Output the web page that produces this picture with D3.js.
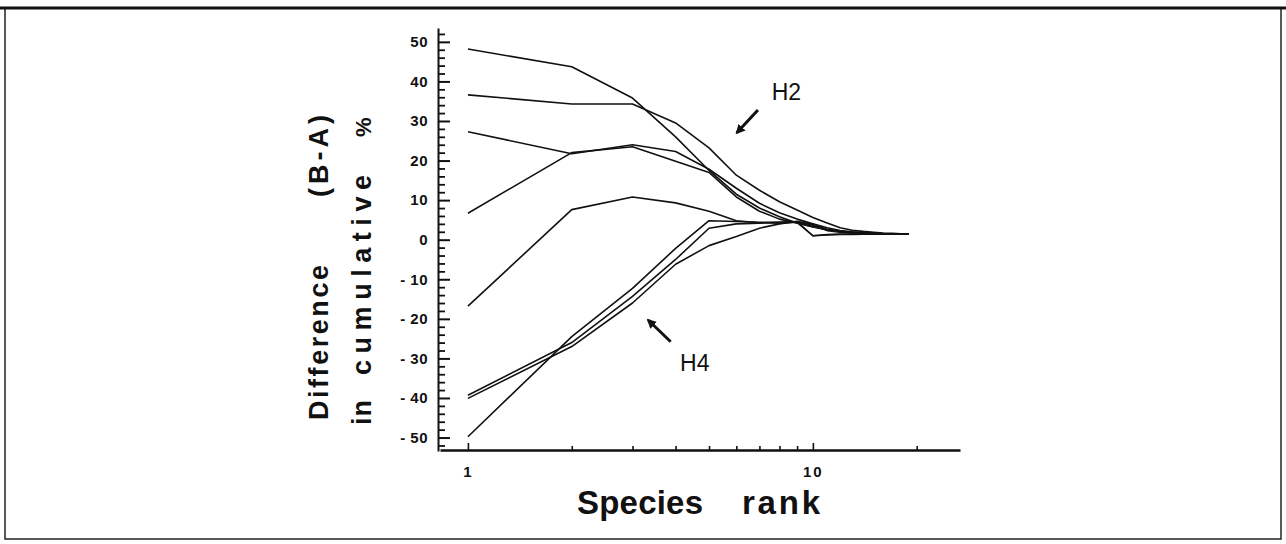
<!DOCTYPE html>
<html>
<head>
<meta charset="utf-8">
<title>Difference (B-A) in cumulative % vs species rank</title>
<script src="https://d3js.org/d3.v7.min.js"></script>
<style>
  body { margin: 0; background: #fff; }
  svg { display: block; font-family: "Liberation Sans", Arial, Helvetica, sans-serif; }
  .curve { fill: none; stroke: #111; stroke-width: 1.6; stroke-linejoin: round; }
  .axis text { fill: #111; font-weight: bold; }
  .title { fill: #111; font-weight: bold; }
</style>
</head>
<body>
<div id="chart"></div>
<script>
// species rank (x, log scale)
const ranks = [1, 2, 3, 4, 5, 6, 7, 8, 9, 10, 11, 12, 13, 14, 15, 16, 17, 18, 19];

// H2 group (start positive)
const curveA = [48.2, 43.7, 35.8, 26.0, 17.5, 11.5, 8.0, 5.8, 4.2, 3.2, 2.5, 2.1, 1.9, 1.7, 1.6, 1.5, 1.5, 1.4, 1.4];
const curveB = [36.6, 34.3, 34.3, 29.5, 23.2, 16.3, 12.5, 9.6, 7.5, 5.6, 4.2, 3.0, 2.4, 2.1, 1.9, 1.7, 1.6, 1.5, 1.4];
const curveC = [27.3, 21.7, 24.0, 22.3, 17.8, 13.0, 9.2, 6.8, 5.2, 4.0, 3.0, 2.3, 2.0, 1.8, 1.6, 1.5, 1.5, 1.4, 1.4];
const curveD = [6.7, 22.0, 23.5, 19.8, 17.0, 10.8, 7.2, 5.2, 4.2, 3.3, 2.5, 2.0, 1.8, 1.6, 1.5, 1.5, 1.4, 1.4, 1.4];
const curveE = [-16.8, 7.6, 10.8, 9.3, 7.2, 4.8, 4.3, 4.2, 4.4, 1.0, 1.2, 1.3, 1.3, 1.4, 1.4, 1.4, 1.4, 1.4, 1.4];

// H4 group (start negative)
const curveF = [-39.3, -26.0, -14.3, -5.0, 2.9, 4.0, 4.2, 4.4, 4.5, 1.0, 1.3, 1.4, 1.4, 1.4, 1.4, 1.4, 1.4, 1.4, 1.4];
const curveG = [-40.1, -27.0, -16.0, -6.2, -1.5, 0.8, 2.9, 4.0, 4.6, 3.9, 2.6, 2.0, 1.7, 1.6, 1.5, 1.5, 1.4, 1.4, 1.4];
const curveH = [-49.8, -24.5, -12.3, -2.2, 4.8, 4.6, 4.4, 4.4, 4.6, 3.6, 2.3, 1.9, 1.7, 1.6, 1.5, 1.5, 1.4, 1.4, 1.4];

const allCurves = [curveA, curveB, curveC, curveD, curveE, curveF, curveG, curveH];

const yTickValues = [-50, -40, -30, -20, -10, 0, 10, 20, 30, 40, 50];
const xTickValues = [1, 2, 3, 4, 5, 6, 7, 8, 9, 10, 20];
const xTickLabels = [1, 10];

const width = 1286, height = 544;

const svg = d3.select("#chart")
  .append("svg")
  .attr("width", width)
  .attr("height", height);

svg.append("rect").attr("width", width).attr("height", height).attr("fill", "#fff");

// page frame
svg.append("rect")
  .attr("x", 5).attr("y", 8)
  .attr("width", 1276).attr("height", 531)
  .attr("fill", "none").attr("stroke", "#222").attr("stroke-width", 1.5);
svg.append("line")
  .attr("x1", 0).attr("x2", width).attr("y1", 8).attr("y2", 8)
  .attr("stroke", "#111").attr("stroke-width", 3);

const x = d3.scaleLog().domain([0.83, 26.7]).range([440, 960]);
const y = d3.scaleLinear().domain([-53.4, 53.5]).range([451, 28]);

// y axis, major ticks point inward
const yAxis = svg.append("g")
  .attr("class", "axis")
  .attr("transform", "translate(438,0)")
  .call(d3.axisLeft(y)
    .tickValues(yTickValues)
    .tickSize(-12)
    .tickSizeOuter(0)
    .tickPadding(10)
    .tickFormat(d => d < 0 ? "- " + Math.abs(d) : d));
yAxis.select(".domain").attr("stroke", "#111").attr("stroke-width", 2);
yAxis.selectAll(".tick line").attr("stroke", "#111").attr("stroke-width", 2);
yAxis.selectAll("text").style("font-size", "15px").style("letter-spacing", "0.5px");

// y minor ticks every 2
const minorY = d3.range(-52, 53, 2).filter(v => v % 10 !== 0);
const yMinor = svg.append("g")
  .attr("transform", "translate(438,0)")
  .call(d3.axisLeft(y).tickValues(minorY).tickSize(-7).tickFormat(""));
yMinor.select(".domain").remove();
yMinor.selectAll(".tick line").attr("stroke", "#111").attr("stroke-width", 1.8);

// x axis
const xAxis = svg.append("g")
  .attr("class", "axis")
  .attr("transform", "translate(0,450)")
  .call(d3.axisBottom(x)
    .tickValues(xTickValues)
    .tickSize(-4)
    .tickSizeOuter(0)
    .tickPadding(16)
    .tickFormat(d => xTickLabels.includes(d) ? d : ""));
xAxis.select(".domain").attr("stroke", "#111").attr("stroke-width", 2.5);
xAxis.selectAll(".tick line")
  .attr("stroke", "#111").attr("stroke-width", 1.6)
  .attr("y2", d => xTickLabels.includes(d) ? -7 : -4);
xAxis.selectAll("text").style("font-size", "15px").style("letter-spacing", "2px");

// curves
const line = d3.line()
  .x((d, i) => x(ranks[i]))
  .y(d => y(d));

svg.append("g")
  .selectAll("path")
  .data(allCurves)
  .join("path")
  .attr("class", "curve")
  .attr("d", line);

// axis titles
function vWord(txt, bx, by, len, size) {
  svg.append("text")
    .attr("class", "title")
    .attr("transform", `translate(${bx},${by}) rotate(-90)`)
    .attr("textLength", len)
    .attr("lengthAdjust", "spacing")
    .style("font-size", size + "px")
    .text(txt);
}
vWord("Difference", 328, 420, 155, 27);
vWord("(B-A)", 328, 197, 82, 27);
vWord("in", 371, 425, 25, 27);
vWord("cumulative", 371, 375, 200, 27);
vWord("%", 371, 137, 17, 22);

svg.append("text").attr("class", "title")
  .attr("x", 577).attr("y", 514)
  .attr("textLength", 126).attr("lengthAdjust", "spacing")
  .style("font-size", "33px").text("Species");
svg.append("text").attr("class", "title")
  .attr("x", 742).attr("y", 514)
  .attr("textLength", 78).attr("lengthAdjust", "spacing")
  .style("font-size", "33px").text("rank");

// annotations
svg.append("defs").append("marker")
  .attr("id", "head")
  .attr("viewBox", "0 0 10 10")
  .attr("refX", 8).attr("refY", 5)
  .attr("markerWidth", 3.2).attr("markerHeight", 3.2)
  .attr("orient", "auto")
  .append("path")
  .attr("d", "M0,0 L10,5 L0,10 Z")
  .attr("fill", "#111");

const notes = [
  { label: "H2", tx: 7.6, ty: 35.3, from: [6.93, 32.8], to: [6.02, 27.0] },
  { label: "H4", tx: 4.12, ty: -33.2, from: [3.87, -25.8], to: [3.33, -20.3] }
];

notes.forEach(n => {
  svg.append("line")
    .attr("x1", x(n.from[0])).attr("y1", y(n.from[1]))
    .attr("x2", x(n.to[0])).attr("y2", y(n.to[1]))
    .attr("stroke", "#111").attr("stroke-width", 3)
    .attr("marker-end", "url(#head)");
  svg.append("text")
    .attr("x", x(n.tx)).attr("y", y(n.ty))
    .attr("fill", "#111")
    .style("font-size", "23px")
    .text(n.label);
});
</script>
</body>
</html>
